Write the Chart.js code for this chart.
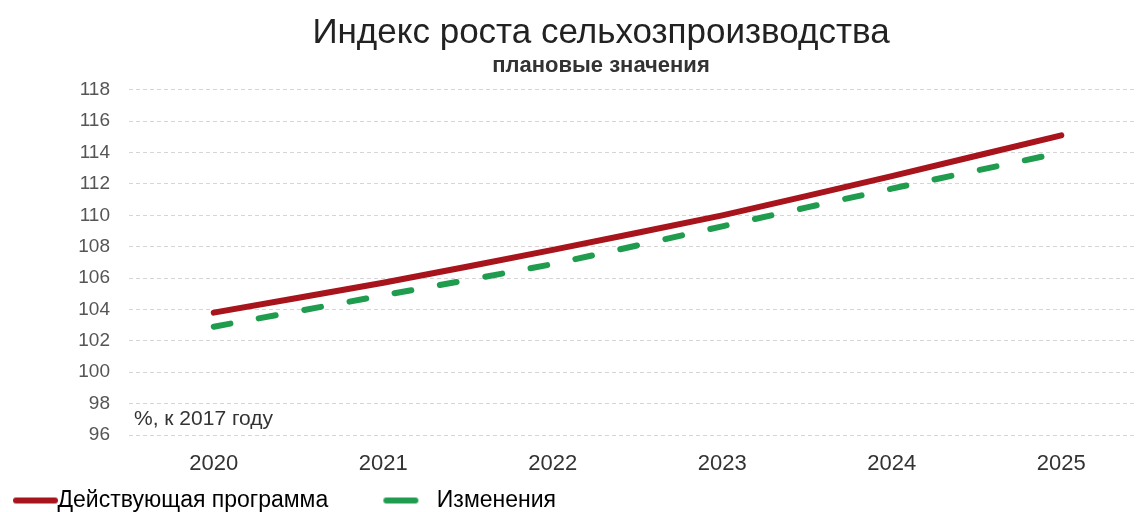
<!DOCTYPE html>
<html lang="ru">
<head>
<meta charset="utf-8">
<title>Индекс роста сельхозпроизводства</title>
<script src="https://cdn.jsdelivr.net/npm/chart.js@4.4.1/dist/chart.umd.min.js"></script>
<style>
    html, body { margin: 0; padding: 0; background: #fff; overflow: hidden; width: 1137px; height: 512px; }
    #wrap { width: 1202px; height: 522px; position: relative; }
</style>
</head>
<body>
<div id="wrap"><canvas id="growthChart"></canvas></div>
<script>
// values
const years = [2020, 2021, 2022, 2023, 2024, 2025];
const currentProgram = [103.8, 105.7, 107.8, 110.0, 112.5, 115.1];
const changes = [102.9, 104.9, 106.9, 109.3, 111.7, 114.0];
const yTicks = [96, 98, 100, 102, 104, 106, 108, 110, 112, 114, 116, 118];

const RED = '#a8141b';
const GREEN = '#1f9c4e';
const FONT = "'Liberation Sans', Arial, sans-serif";

// legend marks: a long solid line for the first series, a single dash for the second
function legendMark(color, from, to) {
    const c = document.createElement('canvas');
    c.width = 80;
    c.height = 8;
    const g = c.getContext('2d');
    g.strokeStyle = color;
    g.lineWidth = 6;
    g.lineCap = 'round';
    g.beginPath();
    g.moveTo(from, 4);
    g.lineTo(to, 4);
    g.stroke();
    return c;
}
const marks = [legendMark(RED, 31, 70), legendMark(GREEN, 22, 51)];
const legendGap = ['\u00a0'.repeat(8), ''];

// small note in the lower-left corner of the plot
const unitNote = {
    id: 'unitNote',
    afterDatasetsDraw(chart) {
        const { ctx, chartArea } = chart;
        ctx.save();
        ctx.font = '21px ' + FONT;
        ctx.fillStyle = '#333';
        ctx.textBaseline = 'middle';
        ctx.fillText('%, к 2017 году', chartArea.left + 5, chartArea.bottom - 16);
        ctx.restore();
    }
};

new Chart(document.getElementById('growthChart'), {
    type: 'line',
    data: {
        datasets: [{
            label: 'Действующая программа',
            data: years.map((x, i) => ({ x: x, y: currentProgram[i] })),
            borderColor: RED,
            backgroundColor: RED,
            borderWidth: 6,
            borderCapStyle: 'round',
            pointRadius: 0,
            tension: 0.2
        }, {
            label: 'Изменения',
            data: years.map((x, i) => ({ x: x, y: changes[i] })),
            borderColor: GREEN,
            backgroundColor: GREEN,
            borderWidth: 6,
            borderDash: [17, 29],
            borderCapStyle: 'round',
            pointRadius: 0,
            tension: 0.2
        }]
    },
    options: {
        responsive: true,
        maintainAspectRatio: false,
        animation: false,
        layout: { padding: 0 },
        plugins: {
            title: {
                display: true,
                text: 'Индекс роста сельхозпроизводства',
                color: '#222',
                font: { family: FONT, size: 35, weight: 'normal', lineHeight: 1.1 },
                padding: { top: 14, bottom: 0 }
            },
            subtitle: {
                display: true,
                text: 'плановые значения',
                color: '#333',
                font: { family: FONT, size: 22, weight: 'bold', lineHeight: 1.15 },
                padding: { top: 1, bottom: 11 }
            },
            legend: {
                position: 'bottom',
                align: 'start',
                labels: {
                    color: '#222',
                    font: { family: FONT, size: 23 },
                    usePointStyle: true,
                    pointStyleWidth: 42,
                    boxHeight: 8,
                    padding: 4,
                    generateLabels(chart) {
                        return chart.data.datasets.map((ds, i) => ({
                            text: ds.label + legendGap[i],
                            pointStyle: marks[i],
                            fillStyle: ds.borderColor,
                            strokeStyle: ds.borderColor,
                            lineWidth: 0,
                            hidden: false,
                            datasetIndex: i
                        }));
                    }
                }
            },
            tooltip: { enabled: false }
        },
        scales: {
            x: {
                type: 'linear',
                min: 2019.5,
                max: 2025.83,
                afterBuildTicks(scale) { scale.ticks = years.map(v => ({ value: v })); },
                afterFit(scale) { scale.height = 50; },
                grid: { display: false },
                border: { display: false },
                ticks: {
                    color: '#333',
                    font: { family: FONT, size: 22 },
                    padding: 8,
                    callback: v => String(v)
                }
            },
            y: {
                min: 96,
                max: 118,
                afterFit(scale) { scale.width = 129; },
                afterBuildTicks(scale) { scale.ticks = yTicks.map(v => ({ value: v })); },
                border: { display: false, dash: [4, 3] },
                grid: {
                    color: '#d6d6d6',
                    lineWidth: 1,
                    drawTicks: false
                },
                ticks: {
                    color: '#555',
                    font: { family: FONT, size: 19 },
                    padding: 19
                }
            }
        }
    },
    plugins: [unitNote]
});
</script>
</body>
</html>
